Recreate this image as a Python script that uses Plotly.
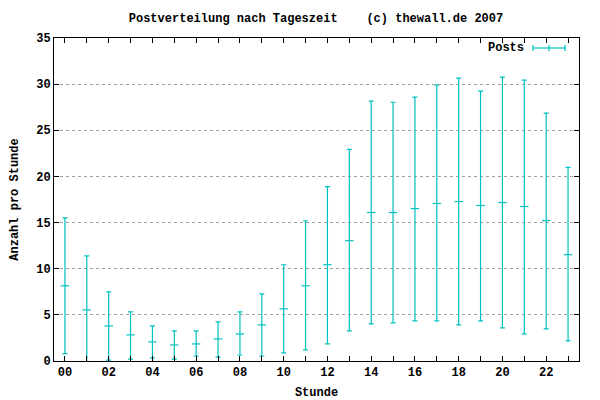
import plotly.graph_objects as go

hours = list(range(24))
mean = [8.15, 5.54, 3.8, 2.83, 2.07, 1.74, 1.85, 2.39, 2.93, 3.91, 5.65,
        8.15, 10.43, 13.04, 16.09, 16.09, 16.52, 17.07, 17.28, 16.85, 17.17, 16.74, 15.22, 11.52]
low = [0.8, -0.32, 0.1, 0.2, 0.33, 0.2, 0.54, 0.43, 0.65, 0.54, 0.87,
       1.2, 1.85, 3.26, 4.02, 4.13, 4.35, 4.35, 3.91, 4.35, 3.59, 2.93, 3.48, 2.17]
high = [15.5, 11.4, 7.5, 5.33, 3.8, 3.26, 3.26, 4.24, 5.33, 7.28, 10.43,
        15.2, 18.9, 22.93, 28.15, 28.04, 28.59, 29.89, 30.65, 29.24, 30.76, 30.43, 26.85, 20.98]
tick_labels = ["%02d" % h if h % 2 == 0 else "" for h in hours]
y_ticks = [0, 5, 10, 15, 20, 25, 30, 35]

CYAN = "#00c0c0"
FONT = dict(family="Liberation Mono, DejaVu Sans Mono, monospace", size=12, color="black", weight="bold")

fig = go.Figure()
fig.add_trace(go.Scatter(
    x=hours, y=mean, mode="markers", name="Posts", showlegend=False,
    marker=dict(symbol="line-ew", size=6, color=CYAN, line=dict(color=CYAN, width=1.2)),
    error_y=dict(type="data", symmetric=False,
                 array=[h - m for h, m in zip(high, mean)],
                 arrayminus=[m - l for m, l in zip(mean, low)],
                 color=CYAN, thickness=1.2, width=2.5),
    cliponaxis=True,
))

# legend key (errorbar sample)
fig.add_shape(type="line", xref="paper", yref="paper", x0=(533-54)/525, x1=(565-54)/525,
              y0=(361-48)/323, y1=(361-48)/323, line=dict(color=CYAN, width=1.2))
for xp in (533, 549, 565):
    fig.add_shape(type="line", xref="paper", yref="paper", x0=(xp-54)/525, x1=(xp-54)/525,
                  y0=(361-45)/323, y1=(361-51)/323, line=dict(color=CYAN, width=1.2))
fig.add_annotation(text="Posts", xref="paper", yref="paper", x=(526-54)/525, y=(361-48)/323,
                   xanchor="right", yanchor="middle", showarrow=False, font=FONT)

fig.update_layout(
    width=600, height=400,
    margin=dict(l=54, r=21, t=38, b=39, autoexpand=False),
    paper_bgcolor="white", plot_bgcolor="white",
    font=FONT,
    title=dict(text="Postverteilung nach Tageszeit    (c) thewall.de 2007",
               x=316/600, xanchor="center", y=1 - 18/400, yanchor="middle", font=FONT,
               automargin=False),
    showlegend=False,
)
fig.update_xaxes(
    range=[-0.5, 23.5], tickvals=hours, ticktext=tick_labels, automargin=False,
    ticks="inside", ticklen=5, tickcolor="black", mirror="ticks",
    showline=True, linecolor="black", linewidth=1, showgrid=False, zeroline=False,
    title=dict(text="Stunde", font=FONT, standoff=10), tickfont=FONT,
)
fig.update_yaxes(
    range=[0, 35], tickvals=y_ticks, automargin=False,
    ticks="inside", ticklen=5, tickcolor="black", mirror="ticks",
    showline=True, linecolor="black", linewidth=1,
    showgrid=True, gridcolor="#a0a0a0", griddash="dot", gridwidth=1, zeroline=False,
    title=dict(text="Anzahl pro Stunde", font=FONT, standoff=14), tickfont=FONT,
)

fig.write_html("out.html", config={"displayModeBar": False},
               post_script="document.body.style.margin='0px';")
